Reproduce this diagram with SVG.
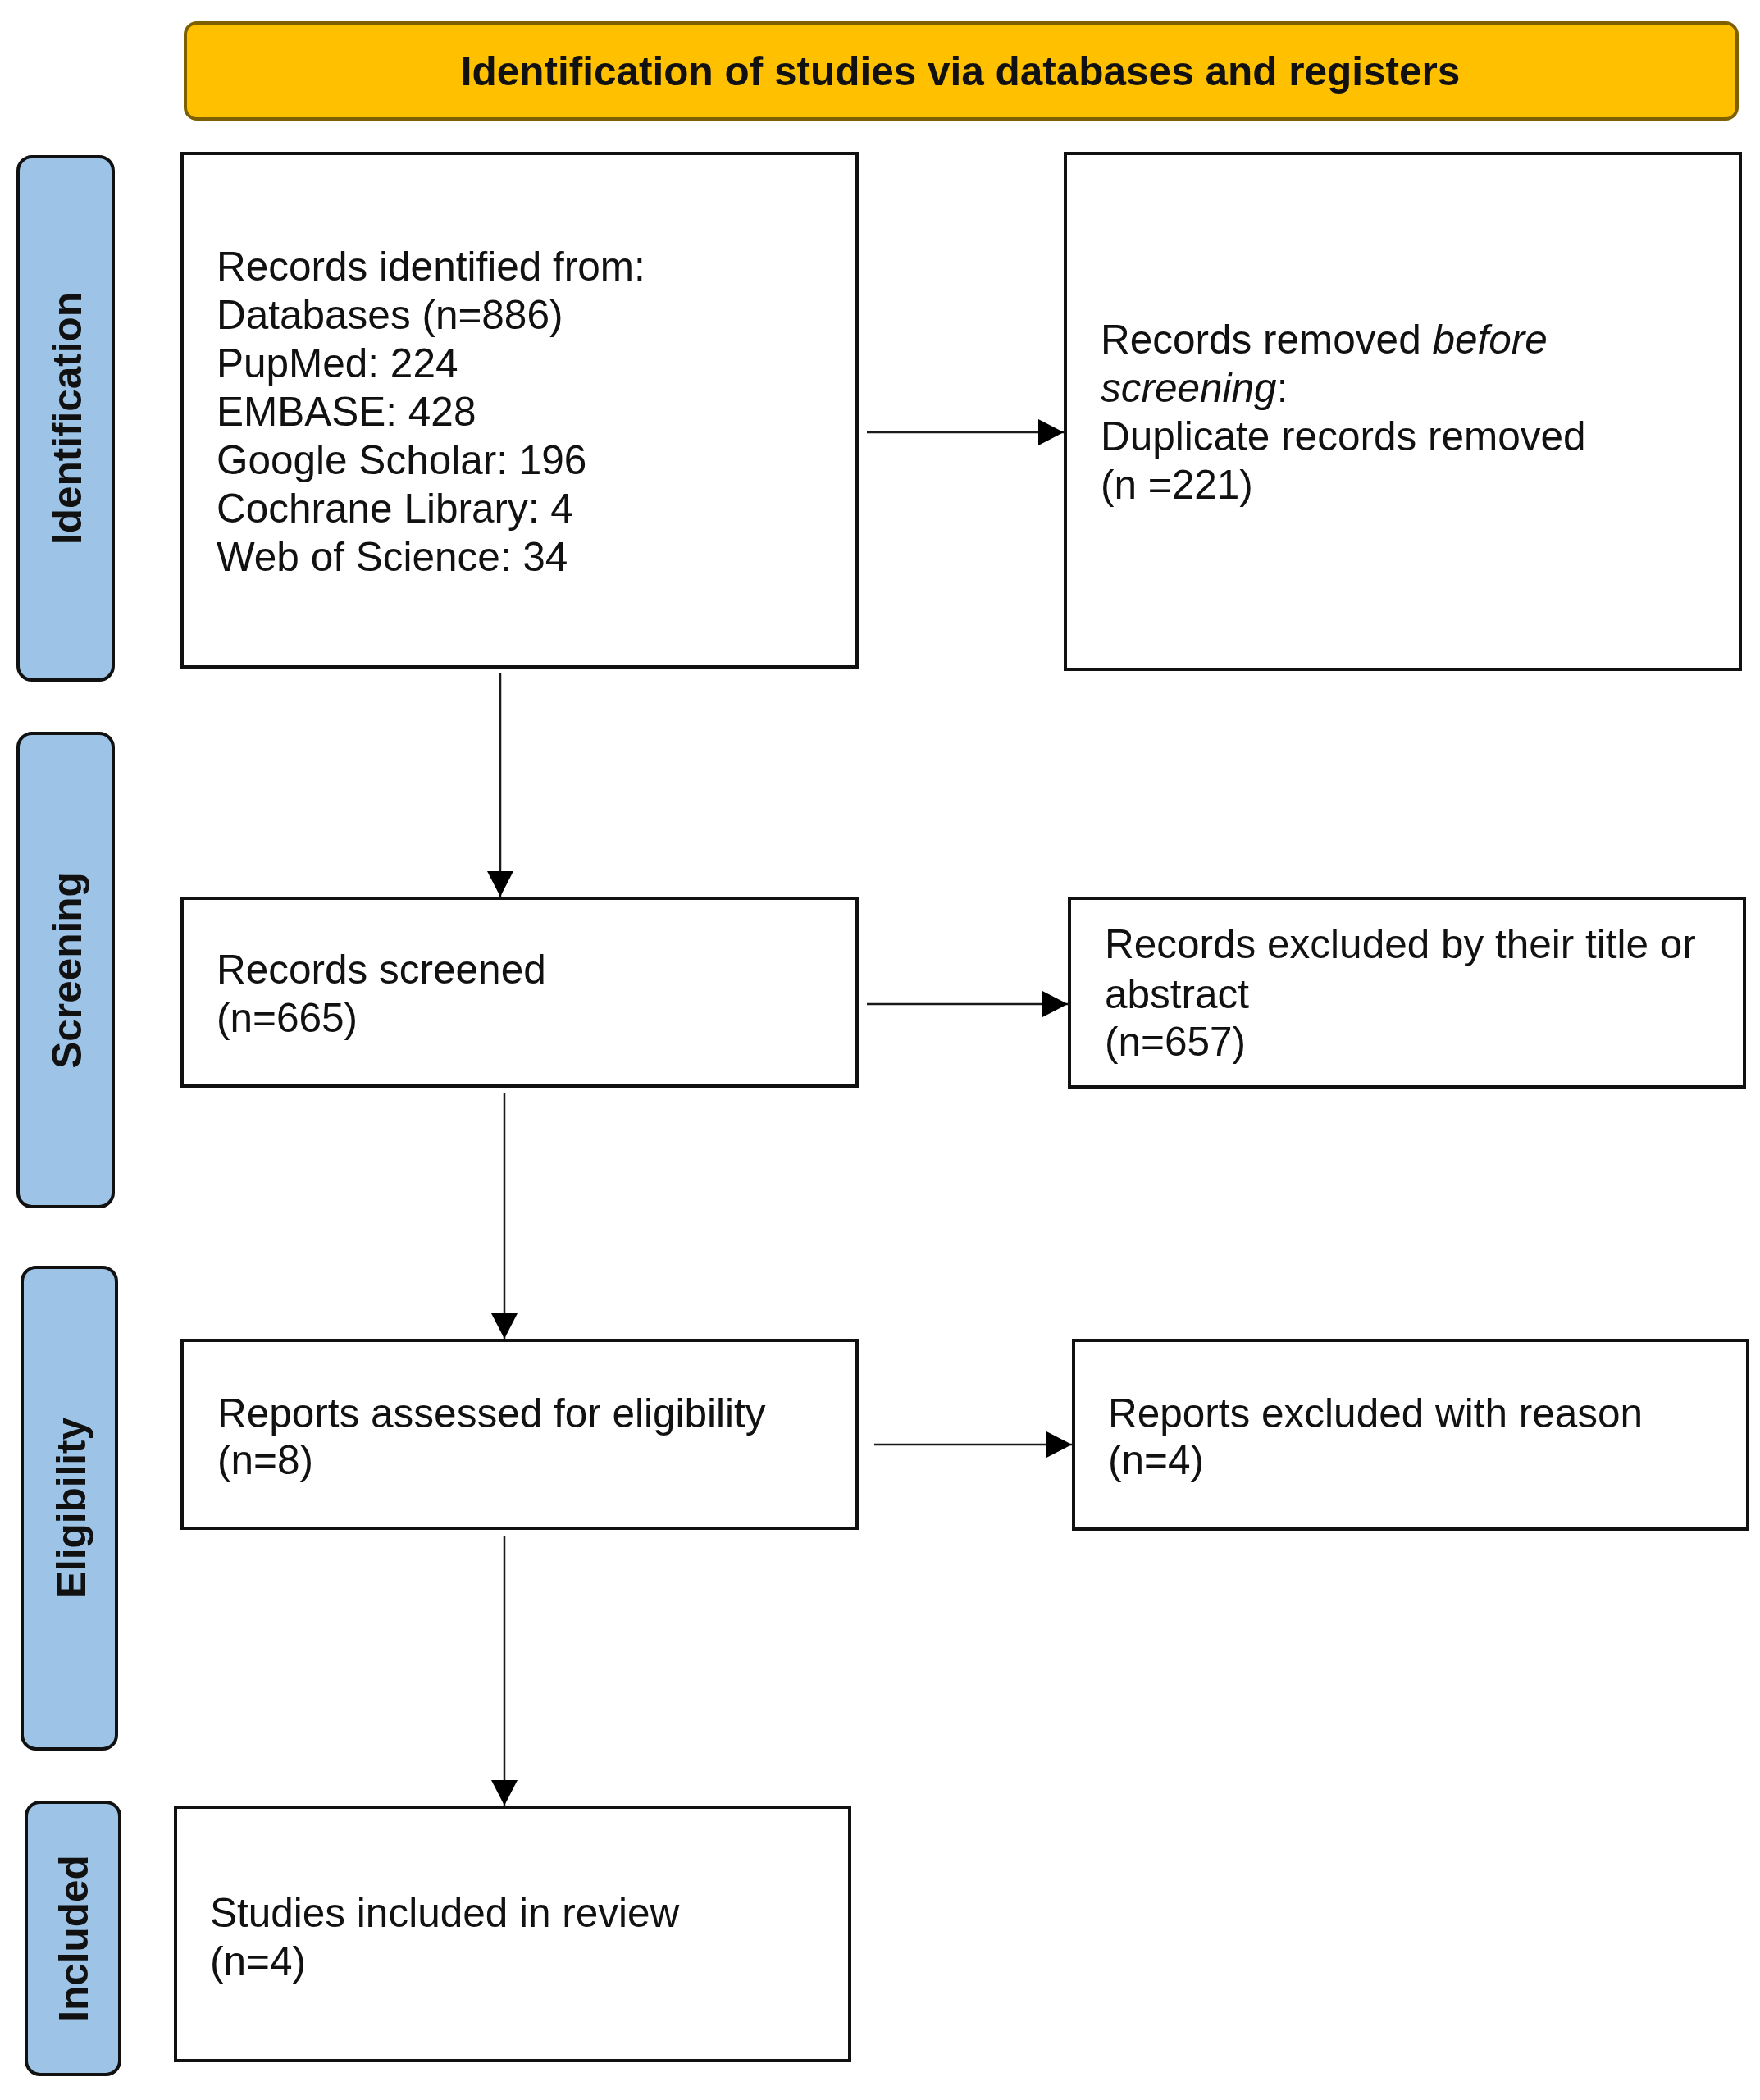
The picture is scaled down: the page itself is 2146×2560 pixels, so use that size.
<svg xmlns="http://www.w3.org/2000/svg" width="2146" height="2560" viewBox="0 0 2146 2560">
<defs>
<style>
.box{fill:#ffffff;stroke:#111111;stroke-width:4}
.side{fill:#9DC3E6;stroke:#111111;stroke-width:4}
.hdr{fill:#FFC000;stroke:#7F6000;stroke-width:4}
.t{font-family:"Liberation Sans",Arial,sans-serif;font-size:49.5px;fill:#111111}
.b{font-family:"Liberation Sans",Arial,sans-serif;font-size:49.5px;font-weight:bold;fill:#111111}
.con{stroke:#1a1a1a;stroke-width:2.5;fill:none;marker-end:url(#ah)}
</style>
<marker id="ah" markerUnits="userSpaceOnUse" viewBox="0 0 31 32" refX="31" refY="16" markerWidth="31" markerHeight="32" orient="auto">
<path d="M0,0 L31,16 L0,32 Z" fill="#000000"/>
</marker>
</defs>
<rect width="2146" height="2560" fill="#ffffff"/>

<g id="header">
<rect class="hdr" x="226" y="28" width="1892" height="117" rx="14"/>
<text class="b" x="1171" y="104" text-anchor="middle">Identification of studies via databases and registers</text>
</g>

<g id="lbl-identification">
<rect class="side" x="22" y="191" width="116" height="638" rx="17"/>
<text class="b" transform="translate(99,510) rotate(-90)" text-anchor="middle">Identification</text>
</g>
<g id="lbl-screening">
<rect class="side" x="22" y="894" width="116" height="577" rx="17"/>
<text class="b" transform="translate(99,1183) rotate(-90)" text-anchor="middle">Screening</text>
</g>
<g id="lbl-eligibility">
<rect class="side" x="27" y="1545" width="115" height="587" rx="17"/>
<text class="b" transform="translate(104,1838) rotate(-90)" text-anchor="middle">Eligibility</text>
</g>
<g id="lbl-included">
<rect class="side" x="32" y="2197" width="114" height="332" rx="17"/>
<text class="b" transform="translate(107,2363) rotate(-90)" text-anchor="middle">Included</text>
</g>

<g id="records-identified">
<rect class="box" x="222" y="187" width="823" height="626"/>
<text class="t" x="264" y="342">Records identified from:</text>
<text class="t" x="264" y="401">Databases (n=886)</text>
<text class="t" x="264" y="460">PupMed: 224</text>
<text class="t" x="264" y="519">EMBASE: 428</text>
<text class="t" x="264" y="578">Google Scholar: 196</text>
<text class="t" x="264" y="637">Cochrane Library: 4</text>
<text class="t" x="264" y="696">Web of Science: 34</text>
</g>

<g id="records-removed">
<rect class="box" x="1299" y="187" width="823" height="629"/>
<text class="t" x="1342" y="431">Records removed <tspan font-style="italic">before</tspan></text>
<text class="t" x="1342" y="490"><tspan font-style="italic">screening</tspan>:</text>
<text class="t" x="1342" y="549">Duplicate records removed</text>
<text class="t" x="1342" y="608">(n =221)</text>
</g>

<g id="records-screened">
<rect class="box" x="222" y="1095" width="823" height="229"/>
<text class="t" x="264" y="1199">Records screened</text>
<text class="t" x="264" y="1258">(n=665)</text>
</g>

<g id="records-excluded">
<rect class="box" x="1304" y="1095" width="823" height="230"/>
<text class="t" x="1347" y="1168">Records excluded by their title or</text>
<text class="t" x="1347" y="1229">abstract</text>
<text class="t" x="1347" y="1287">(n=657)</text>
</g>

<g id="reports-assessed">
<rect class="box" x="222" y="1634" width="823" height="229"/>
<text class="t" x="265" y="1740">Reports assessed for eligibility</text>
<text class="t" x="265" y="1797">(n=8)</text>
</g>

<g id="reports-excluded">
<rect class="box" x="1309" y="1634" width="822" height="230"/>
<text class="t" x="1351" y="1740">Reports excluded with reason</text>
<text class="t" x="1351" y="1797">(n=4)</text>
</g>

<g id="studies-included">
<rect class="box" x="214" y="2203" width="822" height="309"/>
<text class="t" x="256" y="2349">Studies included in review</text>
<text class="t" x="256" y="2408">(n=4)</text>
</g>

<g id="connectors">
<line class="con" x1="1057" y1="527" x2="1297" y2="527"/>
<line class="con" x1="610" y1="820" x2="610" y2="1093"/>
<line class="con" x1="1057" y1="1224" x2="1302" y2="1224"/>
<line class="con" x1="615" y1="1332" x2="615" y2="1632"/>
<line class="con" x1="1066" y1="1761" x2="1307" y2="1761"/>
<line class="con" x1="615" y1="1873" x2="615" y2="2201"/>
</g>
</svg>
